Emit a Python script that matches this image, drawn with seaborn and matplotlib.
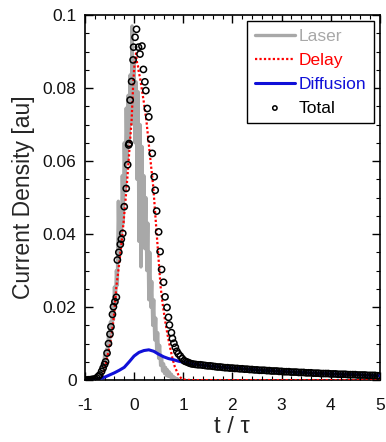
import numpy as np
import pandas as pd
import matplotlib
matplotlib.use("Agg")
import matplotlib.pyplot as plt
import seaborn as sns
from matplotlib.ticker import MultipleLocator, FixedLocator, FixedFormatter

# ---------------- data ----------------
laser_t = np.round(np.arange(-1.0, 0.9001, 0.02), 2)
laser_v = [0.0000, 0.0000, 0.0001, 0.0000, 0.0002, 0.0001, 0.0003, 0.0002, 0.0005, 0.0003,
           0.0008, 0.0006, 0.0012, 0.0009, 0.0018, 0.0014, 0.0030, 0.0022, 0.0045, 0.0032,
           0.0068, 0.0050, 0.0085, 0.0070, 0.0125, 0.0095, 0.0160, 0.0130, 0.0210, 0.0165,
           0.0255, 0.0205, 0.0300, 0.0260, 0.0490, 0.0330, 0.0440, 0.0370, 0.0560, 0.0430,
           0.0650, 0.0520, 0.0745, 0.0600, 0.0780, 0.0650, 0.0836, 0.0700, 0.0970, 0.0720,
           0.0880, 0.0650, 0.0817, 0.0550, 0.0790, 0.0380, 0.0700, 0.0310, 0.0640, 0.0400,
           0.0560, 0.0360, 0.0500, 0.0300, 0.0430, 0.0220, 0.0350, 0.0200, 0.0270, 0.0150,
           0.0220, 0.0110, 0.0170, 0.0080, 0.0130, 0.0060, 0.0095, 0.0040, 0.0065, 0.0025,
           0.0045, 0.0018, 0.0035, 0.0012, 0.0028, 0.0010, 0.0022, 0.0008, 0.0016, 0.0005,
           0.0010, 0.0003, 0.0006, 0.0002, 0.0004, 0.0001]

delay_t = [-1.00, -0.90, -0.80, -0.75, -0.70, -0.65, -0.60, -0.55, -0.50, -0.45, -0.42,
           -0.40, -0.36, -0.32, -0.28, -0.25, -0.21, -0.15, -0.10, -0.05, -0.02, 0.00,
           0.02, 0.04, 0.06, 0.08, 0.10, 0.12, 0.15, 0.20, 0.25, 0.32, 0.39, 0.44, 0.49,
           0.54, 0.58, 0.63, 0.68, 0.73, 0.78, 0.83, 0.90, 0.97, 1.05, 1.20, 2.00, 3.00,
           4.00, 5.00]
delay_v = [0.0000, 0.0000, 0.0001, 0.0002, 0.0004, 0.0012, 0.0030, 0.0060, 0.0091, 0.0130,
           0.0164, 0.0190, 0.0256, 0.0300, 0.0347, 0.0380, 0.0438, 0.0530, 0.0621, 0.0712,
           0.0804, 0.0850, 0.0880, 0.0895, 0.0870, 0.0860, 0.0840, 0.0830, 0.0804, 0.0760,
           0.0712, 0.0620, 0.0530, 0.0438, 0.0347, 0.0256, 0.0210, 0.0164, 0.0125, 0.0091,
           0.0060, 0.0036, 0.0015, 0.0003, 0.0001, 0.0000, 0.0000, 0.0000, 0.0000, 0.0000]

diff_t = [-1.0, -0.9, -0.8, -0.7, -0.6, -0.5, -0.4, -0.3, -0.2, -0.1, 0.0, 0.1, 0.2, 0.3,
          0.4, 0.5, 0.6, 0.7, 0.8, 0.9, 1.0, 1.2, 1.4, 1.6, 1.8, 2.0, 2.5, 3.0, 3.5, 4.0,
          4.5, 5.0]
diff_v = [0.0000, 0.0001, 0.0002, 0.0004, 0.0008, 0.0014, 0.0020, 0.0027, 0.0035, 0.0050,
          0.0066, 0.0076, 0.0081, 0.0083, 0.0079, 0.0071, 0.0064, 0.0059, 0.0056, 0.0052,
          0.0049, 0.0044, 0.0041, 0.0038, 0.0035, 0.0033, 0.0028, 0.0024, 0.0020, 0.0017,
          0.0015, 0.0012]

total_peak_t = [-1.00, -0.96, -0.93, -0.90, -0.86, -0.83, -0.80, -0.76, -0.73, -0.70,
                -0.66, -0.63, -0.60, -0.58, -0.55, -0.52, -0.49, -0.47, -0.44, -0.42,
                -0.39, -0.36, -0.34, -0.31, -0.28, -0.26, -0.23, -0.20, -0.16, -0.13,
                -0.11, -0.10, -0.08, -0.05, -0.02, -0.01, 0.02, 0.05, 0.09, 0.12, 0.16,
                0.19, 0.22, 0.24, 0.27, 0.30, 0.34, 0.37, 0.41, 0.43, 0.46, 0.50, 0.53,
                0.56, 0.60, 0.63, 0.67, 0.70, 0.72, 0.76, 0.78, 0.81, 0.84, 0.87, 0.90,
                0.94, 0.98, 1.02, 1.05, 1.09, 1.12, 1.16]
total_peak_v = [0.0000, 0.0000, 0.0001, 0.0001, 0.0002, 0.0002, 0.0003, 0.0006, 0.0010, 0.0014,
                0.0024, 0.0033, 0.0043, 0.0050, 0.0074, 0.0100, 0.0126, 0.0146, 0.0180, 0.0201,
                0.0215, 0.0227, 0.0329, 0.0350, 0.0372, 0.0386, 0.0402, 0.0475, 0.0525, 0.0590,
                0.0644, 0.0648, 0.0767, 0.0818, 0.0877, 0.0912, 0.0939, 0.0961, 0.0912, 0.0893,
                0.0915, 0.0851, 0.0817, 0.0793, 0.0744, 0.0721, 0.0660, 0.0621, 0.0557, 0.0520,
                0.0463, 0.0406, 0.0352, 0.0303, 0.0268, 0.0228, 0.0199, 0.0172, 0.0151, 0.0130,
                0.0114, 0.0101, 0.0090, 0.0079, 0.0072, 0.0066, 0.0059, 0.0053, 0.0051, 0.0049,
                0.0047, 0.0045]
total_tail_t = np.round(np.arange(1.20, 5.0001, 0.05), 2)
total_tail_v = [0.0044, 0.0043, 0.0042, 0.0042, 0.0041, 0.0040, 0.0039, 0.0039, 0.0038, 0.0037,
                0.0036, 0.0036, 0.0035, 0.0034, 0.0034, 0.0033, 0.0033, 0.0032, 0.0032, 0.0031,
                0.0031, 0.0030, 0.0030, 0.0029, 0.0029, 0.0028, 0.0028, 0.0027, 0.0027, 0.0027,
                0.0026, 0.0026, 0.0025, 0.0025, 0.0025, 0.0024, 0.0024, 0.0023, 0.0023, 0.0023,
                0.0022, 0.0022, 0.0022, 0.0021, 0.0021, 0.0021, 0.0020, 0.0020, 0.0020, 0.0019,
                0.0019, 0.0019, 0.0018, 0.0018, 0.0018, 0.0018, 0.0017, 0.0017, 0.0017, 0.0016,
                0.0016, 0.0016, 0.0016, 0.0015, 0.0015, 0.0015, 0.0015, 0.0014, 0.0014, 0.0014,
                0.0014, 0.0013, 0.0013, 0.0013, 0.0013, 0.0012, 0.0012]

x_ticks = [-1, 0, 1, 2, 3, 4, 5]
x_tick_labels = ["-1", "0", "1", "2", "3", "4", "5"]
y_ticks = [0, 0.02, 0.04, 0.06, 0.08, 0.1]
y_tick_labels = ["0", "0.02", "0.04", "0.06", "0.08", "0.1"]

# ---------------- style ----------------
sns.set_style("ticks")
plt.rcParams["font.family"] = ["Liberation Sans", "DejaVu Sans"]

fig = plt.figure(figsize=(3.86, 4.42), dpi=100)
ax = fig.add_axes([0.220, 0.140, 0.764, 0.826])

laser_df = pd.DataFrame({"t": laser_t, "v": laser_v})
delay_df = pd.DataFrame({"t": delay_t, "v": delay_v})
diff_df = pd.DataFrame({"t": diff_t, "v": diff_v})
total_df = pd.DataFrame({"t": list(total_peak_t) + list(total_tail_t),
                         "v": list(total_peak_v) + list(total_tail_v)})

sns.lineplot(data=laser_df, x="t", y="v", ax=ax, color="#a8a8a8", lw=2.4,
             label="Laser", zorder=2, estimator=None, sort=False)
sns.lineplot(data=delay_df, x="t", y="v", ax=ax, color="#ff0000", lw=1.6,
             dashes=False, label="Delay", zorder=3, estimator=None, sort=False)
ax.lines[-1].set_linestyle((0, (1, 1)))
sns.lineplot(data=diff_df, x="t", y="v", ax=ax, color="#1010d8", lw=2.2,
             label="Diffusion", zorder=4, estimator=None, sort=False)
sns.scatterplot(data=total_df, x="t", y="v", ax=ax, marker="o", s=20,
                facecolors="none", edgecolors="black", linewidths=1.1,
                label="Total", zorder=5)

ax.set_xlim(-1, 5)
ax.set_ylim(0, 0.1)
ax.xaxis.set_major_locator(FixedLocator(x_ticks))
ax.xaxis.set_major_formatter(FixedFormatter(x_tick_labels))
ax.yaxis.set_major_locator(FixedLocator(y_ticks))
ax.yaxis.set_major_formatter(FixedFormatter(y_tick_labels))
ax.xaxis.set_minor_locator(MultipleLocator(0.2))
ax.yaxis.set_minor_locator(MultipleLocator(0.005))
ax.tick_params(which="both", direction="in", top=True, right=True, color="black")
ax.tick_params(which="major", length=6, width=1.0, labelsize=12.5, labelcolor="#111111")
ax.tick_params(axis="y", which="major", pad=6)
ax.tick_params(axis="x", which="major", pad=13)
ax.tick_params(which="minor", length=3, width=0.8)
for s in ax.spines.values():
    s.set_visible(True)
    s.set_color("black")
    s.set_linewidth(1.2)

ax.set_xlabel("t / τ", fontsize=17, labelpad=2)
ax.set_ylabel("Current Density [au]", fontsize=16.5, labelpad=6)

leg = ax.legend(loc="upper right", fontsize=12.5, frameon=True, fancybox=False,
                edgecolor="black", framealpha=1, borderaxespad=0.35,
                handlelength=2.3, handletextpad=0.2, labelspacing=0.5,
                borderpad=0.45, markerscale=0.7)
leg.get_frame().set_linewidth(1.0)
for txt, col in zip(leg.get_texts(), ["#a8a8a8", "#ff0000", "#1010d8", "black"]):
    txt.set_color(col)

fig.savefig("out.png", dpi=100)
